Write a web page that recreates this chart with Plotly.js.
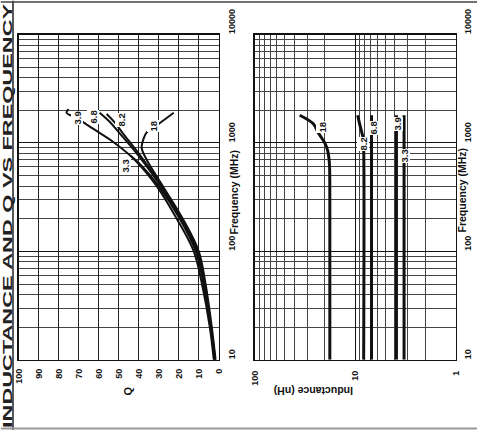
<!DOCTYPE html>
<html><head><meta charset="utf-8">
<script src="https://cdn.plot.ly/plotly-3.0.1.min.js"></script>
<style>
html,body{margin:0;padding:0;width:477px;height:430px;overflow:hidden;background:#fff;}
#wrap{position:absolute;left:23.5px;top:-23.5px;width:430px;height:477px;transform:rotate(-90deg);transform-origin:50% 50%;}
#chart{width:430px;height:477px;}
</style></head><body>
<div id="wrap"><div id="chart"></div></div>
<script>
// ---- tick labels ----
const freqTicks = [10, 100, 1000, 10000];
const freqTickText = ['10', '100', '1000', '10000'];
const freqMinor = [20,30,40,50,60,70,80,90,200,300,400,500,600,700,800,900,2000,3000,4000,5000,6000,7000,8000,9000];
const qTicks = [0,10,20,30,40,50,60,70,80,90,100];
const indTicks = [1, 10, 100];
const indTickText = ['1', '10', '100'];
const indMinor = [2,3,4,5,6,7,8,9,20,30,40,50,60,70,80,90];

// ---- Q vs frequency (MHz) ----
const q33F = [10, 20, 50, 100, 200, 400, 600, 760];
const q33Q = [2.2, 4.2, 7.6, 11.5, 19.5, 30, 38, 44];
const q39F = [10, 20, 50, 100, 200, 400, 700, 1000, 1360, 1700, 1900, 2050];
const q39Q = [2.5, 4.5, 8.4, 12.5, 21, 31, 42, 52, 63, 71, 76, 75];
const q68F = [10, 20, 50, 100, 200, 400, 800, 1200, 1600, 1900];
const q68Q = [2, 4, 7.4, 11, 19, 29, 41, 49, 55, 59.5];
const q82F = [10, 20, 50, 100, 200, 400, 800, 1200, 1550, 1850];
const q82Q = [1.8, 3.8, 7, 10.5, 18.5, 28.5, 40, 47.5, 52, 56];
const q18F = [10, 20, 50, 100, 200, 400, 700, 900, 1100, 1250, 1500, 1900];
const q18Q = [1.6, 3.5, 6.6, 10, 18, 28, 36, 38.5, 37.5, 36, 30, 22.5];

// ---- Inductance (nH) vs frequency (MHz) ----
const l18F = [10, 300, 600, 700, 850, 1000, 1100, 1250, 1500, 1800];
const l18L = [17.8, 17.8, 17.9, 18.1, 18.7, 20, 21.3, 23.3, 26, 35.5];
const l82F = [10, 900, 1100, 1220, 1500, 1800];
const l82L = [8.2, 8.2, 8.3, 8.5, 9.0, 9.4];
const l68F = [10, 1800];
const l68L = [6.85, 6.85];
const l39F = [10, 1800];
const l39L = [3.87, 3.87];
const l33F = [10, 1800];
const l33L = [3.25, 3.25];

// ---- curve labels ----
const qLabText = ['3.9', '6.8', '8.2', '18', '3.3'];
const qLabF = [1700, 1746, 1630, 1443, 607];
const qLabQ = [70.8, 63, 49, 33, 46.9];
const lLabText = ['18', '8.2', '6.8', '3.9', '3.3'];
const lLabF = [1390, 973, 1372, 1503, 762];
const lLabL = [21.2, 8.42, 6.55, 3.78, 3.22];

const TITLE = 'INDUCTANCE AND Q VS FREQUENCY';
const FONT = 'Liberation Sans, Arial, Helvetica, sans-serif';
const qLine = {color: '#111', width: 2, shape: 'spline'};
const lLine = {color: '#111', width: 3, shape: 'spline'};

function tr(x, y, ax, line) {
  return {x: x, y: y, xaxis: ax[0], yaxis: ax[1], mode: 'lines', line: line, hoverinfo: 'skip', showlegend: false};
}
const data = [
  tr(q33F, q33Q, ['x', 'y'], qLine),
  tr(q39F, q39Q, ['x', 'y'], qLine),
  tr(q68F, q68Q, ['x', 'y'], qLine),
  tr(q82F, q82Q, ['x', 'y'], qLine),
  tr(q18F, q18Q, ['x', 'y'], qLine),
  tr(l18F, l18L, ['x2', 'y2'], lLine),
  tr(l82F, l82L, ['x2', 'y2'], lLine),
  tr(l68F, l68L, ['x2', 'y2'], lLine),
  tr(l39F, l39L, ['x2', 'y2'], lLine),
  tr(l33F, l33L, ['x2', 'y2'], lLine)
];

const W = 430, H = 477;
const px = v => v / W;
const py = v => 1 - v / H;

const tickFont = {family: FONT, size: 9, color: '#111', weight: 'bold'};
const freqAxis = {
  type: 'log', range: [1, 4], tickvals: freqTicks, ticktext: freqTickText,
  ticks: '', showline: true, mirror: true, linecolor: '#111', linewidth: 1.2,
  showgrid: true, gridcolor: '#111', gridwidth: 1,
  minor: {tickvals: freqMinor, showgrid: true, gridcolor: '#444', gridwidth: 1, ticks: ''},
  ticklabelposition: 'outside right', tickfont: tickFont, zeroline: false, fixedrange: true
};

const layout = {
  width: W, height: H,
  margin: {l: 0, r: 0, t: 0, b: 0},
  paper_bgcolor: '#fff', plot_bgcolor: '#fff',
  showlegend: false,
  xaxis: Object.assign({}, freqAxis, {domain: [px(70.7), px(396)], anchor: 'y', ticklabelstandoff: 4}),
  yaxis: {domain: [py(218.3), py(18)], range: [0, 100], tickvals: qTicks, ticks: '',
    showline: true, mirror: true, linecolor: '#111', linewidth: 1.2,
    showgrid: true, gridcolor: '#222', gridwidth: 1, zeroline: false,
    tickfont: tickFont, ticklabelstandoff: 6, anchor: 'x', fixedrange: true},
  xaxis2: Object.assign({}, freqAxis, {domain: [px(70.7), px(396)], anchor: 'y2', ticklabelstandoff: 3}),
  yaxis2: {type: 'log', domain: [py(455), py(254)], range: [0, 2], tickvals: indTicks, ticktext: indTickText,
    ticks: '', showline: true, mirror: true, linecolor: '#111', linewidth: 1.2,
    showgrid: true, gridcolor: '#111', gridwidth: 1, zeroline: false,
    minor: {tickvals: indMinor, showgrid: true, gridcolor: '#444', gridwidth: 1, ticks: ''},
    tickfont: tickFont, ticklabelstandoff: 8, anchor: 'x2', fixedrange: true},
  annotations: [],
  shapes: [
    {type: 'line', xref: 'paper', yref: 'paper', x0: 0, x1: 1, y0: py(12.5), y1: py(12.5), line: {color: '#222', width: 1.5}},
    {type: 'line', xref: 'paper', yref: 'paper', x0: px(428.5), x1: px(428.5), y0: 0, y1: 1, line: {color: '#444', width: 1.5}},
    {type: 'line', xref: 'paper', yref: 'paper', x0: px(2), x1: px(2), y0: 0, y1: 1, line: {color: '#999', width: 2}}
  ]
};

const ann = layout.annotations;
ann.push({text: TITLE, xref: 'paper', yref: 'paper', x: px(215), y: py(6.9),
  xanchor: 'center', yanchor: 'middle', borderpad: 0, showarrow: false, font: {family: FONT, size: 12.5, color: '#222', weight: 'bold'}});
ann.push({text: 'Q', xref: 'paper', yref: 'paper', x: px(33), y: py(119), showarrow: false,
  font: {family: FONT, size: 11, color: '#111', weight: 'bold'}});
ann.push({text: 'Inductance (nH)', xref: 'paper', yref: 'paper', x: px(31), y: py(355), textangle: -90, showarrow: false,
  font: {family: FONT, size: 10.5, color: '#111', weight: 'bold'}});
ann.push({text: 'Frequency (MHz)', xref: 'paper', yref: 'paper', x: px(238), y: py(233), showarrow: false,
  font: {family: FONT, size: 10.5, color: '#111', weight: 'bold'}});
ann.push({text: 'Frequency (MHz)', xref: 'paper', yref: 'paper', x: px(240), y: py(469), showarrow: false,
  font: {family: FONT, size: 10.5, color: '#111', weight: 'bold'}});
for (let i = 0; i < qLabText.length; i++) {
  ann.push({text: qLabText[i], xref: 'x', yref: 'y', x: Math.log10(qLabF[i]), y: qLabQ[i], showarrow: false,
    bgcolor: '#fff', borderpad: 0, font: {family: FONT, size: 9.5, color: '#111', weight: 'bold'}});
}
for (let i = 0; i < lLabText.length; i++) {
  ann.push({text: lLabText[i], xref: 'x2', yref: 'y2', x: Math.log10(lLabF[i]), y: Math.log10(lLabL[i]), showarrow: false,
    bgcolor: '#fff', borderpad: 0, font: {family: FONT, size: 9.5, color: '#111', weight: 'bold'}});
}

function stretchTitle() {
  document.querySelectorAll('#chart .annotation-text').forEach(function (t) {
    if (t.textContent === TITLE) {
      t.setAttribute('textLength', '424');
      t.setAttribute('lengthAdjust', 'spacingAndGlyphs');
    }
  });
}
Plotly.newPlot('chart', data, layout, {staticPlot: true, displayModeBar: false}).then(stretchTitle);
</script></body></html>
